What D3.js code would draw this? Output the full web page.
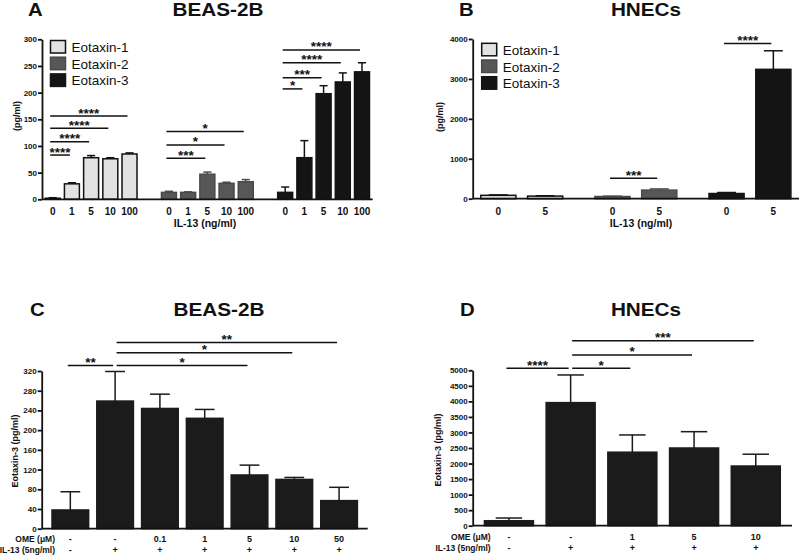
<!DOCTYPE html>
<html><head><meta charset="utf-8">
<script src="https://cdn.jsdelivr.net/npm/d3@7"></script>
<style>
html,body{margin:0;padding:0;background:#fff;}
svg{display:block;font-family:"Liberation Sans",Arial,sans-serif;}
</style></head>
<body><svg id="chart" width="800" height="555"></svg>
<script>
// ---------- DATA ----------
const seriesNames = ["Eotaxin-1","Eotaxin-2","Eotaxin-3"];
// Panel A (BEAS-2B) IL-13 doses
const dosesA = ["0","1","5","10","100"];
const meanA_E1 = [2,29,78,76,85];
const semA_E1  = [1,2,4,2,2];
const meanA_E2 = [13,13,47,30,33];
const semA_E2  = [2,1,4,2,4];
const meanA_E3 = [13,78,198,220,239];
const semA_E3  = [10,32,15,17,17];
const ticksA = [0,50,100,150,200,250,300];
// significance: [seriesIndex, fromDoseIndex, toDoseIndex, yValue, label]
const sigA = [
  [0,0,1,83,"****"],[0,0,2,108,"****"],[0,0,3,133,"****"],[0,0,4,156,"****"],
  [1,0,2,77,"***"],[1,0,3,102,"*"],[1,0,4,127,"*"],
  [2,0,1,207,"*"],[2,0,2,228,"***"],[2,0,3,256,"****"],[2,0,4,280,"****"]
];
// Panel B (HNECs)
const dosesB = ["0","5"];
const meanB_E1 = [85,65];
const semB_E1  = [10,8];
const meanB_E2 = [55,215];
const semB_E2  = [8,30];
const meanB_E3 = [130,3240];
const semB_E3  = [25,465];
const ticksB = [0,1000,2000,3000,4000];
const sigB = [[1,0,1,510,"***"],[2,0,1,3890,"****"]];
// Panel C (BEAS-2B, OME)
const omeC  = ["-","-","0.1","1","5","10","50"];
const il13C = ["-","+","+","+","+","+","+"];
const meanC = [38,259,244,224,109,100,57];
const semC  = [37,60,29,18,20,4,27];
const ticksC = [0,40,80,120,160,200,240,280,320];
const sigC = [[0,1,331,"**"],[1,4,331,"*"],[1,5,357,"*"],[1,6,378,"**"]];
// Panel D (HNECs, OME)
const omeD  = ["-","-","1","5","10"];
const il13D = ["-","+","+","+","+"];
const meanD = [160,3960,2365,2500,1920];
const semD  = [88,890,555,525,380];
const ticksD = [0,500,1000,1500,2000,2500,3000,3500,4000,4500,5000];
const sigD = [[0,1,5068,"****"],[1,2,5068,"*"],[1,3,5496,"*"],[1,4,5947,"***"]];

// ---------- STYLE ----------
const fills   = {"Eotaxin-1":"#e2e2e2","Eotaxin-2":"#575757","Eotaxin-3":"#141414"};
const strokes = {"Eotaxin-1":"#111","Eotaxin-2":"#4a4a4a","Eotaxin-3":"#141414"};
const INK = "#111";
const svg = d3.select("#chart");

function yAxis(g, y, ticks, x0, fs){
  const ax = d3.axisLeft(y).tickValues(ticks).tickFormat(d3.format("d"))
    .tickSize(4).tickSizeOuter(0).tickPadding(1);
  const a = g.append("g").attr("transform",`translate(${x0},0)`).call(ax);
  a.selectAll("path,line").attr("stroke",INK).attr("stroke-width",1.8);
  a.selectAll("text").attr("font-size",fs||8).attr("font-weight","bold").attr("fill",INK)
    .attr("font-family","'Liberation Sans',Arial,sans-serif");
}
function xLine(g, x0, x1, y0){
  g.append("line").attr("x1",x0).attr("x2",x1).attr("y1",y0).attr("y2",y0)
    .attr("stroke",INK).attr("stroke-width",1.8);
}
function title(g, letter, lx, name, cx, by){
  g.append("text").attr("transform",`translate(${lx},${by}) scale(1.1,1)`).text(letter)
    .attr("font-size",18.5).attr("font-weight","bold").attr("fill",INK);
  g.append("text").attr("transform",`translate(${cx},${by}) scale(1.12,1)`).text(name).attr("text-anchor","middle")
    .attr("font-size",18.5).attr("font-weight","bold").attr("fill",INK);
}
function yLabel(g, txt, bx, cy){
  g.append("text").attr("transform",`translate(${bx},${cy}) rotate(-90)`)
    .attr("text-anchor","middle").attr("font-size",9).attr("font-weight","bold")
    .attr("fill",INK).text(txt);
}
function bars(g, rows, y, fillFn, strokeFn, bw){
  g.selectAll(null).data(rows).join("rect")
    .attr("x",d=>d.x).attr("width",bw)
    .attr("y",d=>y(d.m)).attr("height",d=>Math.max(0,y(0)-y(d.m)))
    .attr("fill",d=>fillFn(d)).attr("stroke",d=>strokeFn(d)).attr("stroke-width",1.5);
  g.selectAll(null).data(rows).join("line")
    .attr("x1",d=>d.x+bw/2).attr("x2",d=>d.x+bw/2)
    .attr("y1",d=>y(d.m)).attr("y2",d=>y(d.m+d.s))
    .attr("stroke",d=>strokeFn(d)).attr("stroke-width",1.5);
  g.selectAll(null).data(rows).join("line")
    .attr("x1",d=>d.x+bw/2-bw*0.27).attr("x2",d=>d.x+bw/2+bw*0.27)
    .attr("y1",d=>y(d.m+d.s)).attr("y2",d=>y(d.m+d.s))
    .attr("stroke",d=>strokeFn(d)).attr("stroke-width",1.5);
}
function sig(g, items, y){
  items.forEach(it=>{
    const x1 = it.xa + (it.shared ? 1.5 : -2.5), x2 = it.xb - 2;
    g.append("line").attr("x1",x1).attr("x2",x2).attr("y1",y(it.v)).attr("y2",y(it.v))
      .attr("stroke",INK).attr("stroke-width",1.5);
    g.append("text").attr("x",(x1+x2)/2).attr("y",y(it.v)+1.5).attr("text-anchor","middle")
      .attr("font-size",13.5).attr("font-weight","bold").attr("fill",INK).text(it.lab);
  });
}
function legend(g, x, y0, step){
  seriesNames.forEach((n,i)=>{
    g.append("rect").attr("x",x).attr("y",y0+i*step).attr("width",15).attr("height",12.5)
      .attr("fill",fills[n]).attr("stroke",strokes[n]).attr("stroke-width",1.5);
    g.append("text").attr("x",x+21).attr("y",y0+i*step+11.5).text(n)
      .attr("font-size",13.5).attr("fill",INK);
  });
}

// ---------- PANEL A ----------
(function(){
  const g = svg.append("g");
  const y = d3.scaleLinear().domain([0,300]).range([199.3,39.3]);
  const xo = d3.scaleBand().domain(seriesNames).range([42,372.7]).paddingInner(0.2).paddingOuter(0.0225);
  const xi = d3.scaleBand().domain(dosesA).range([0,xo.bandwidth()]).paddingInner(0.22).paddingOuter(0.031);
  const means = [meanA_E1,meanA_E2,meanA_E3], sems=[semA_E1,semA_E2,semA_E3];
  const rows = [];
  seriesNames.forEach((n,si)=>dosesA.forEach((d,di)=>rows.push({n, d, x:xo(n)+xi(d), m:means[si][di], s:sems[si][di]})));
  bars(g, rows, y, d=>fills[d.n], d=>strokes[d.n], xi.bandwidth());
  xLine(g, 42, 372.7, y(0));
  yAxis(g, y, ticksA, 42);
  g.selectAll(null).data(rows).join("text")
    .attr("x",d=>d.x+xi.bandwidth()/2).attr("y",214.5).attr("text-anchor","middle")
    .attr("font-size",10).attr("font-weight","bold").attr("fill",INK).text(d=>d.d);
  g.append("text").attr("x",205).attr("y",227).attr("text-anchor","middle")
    .attr("font-size",10.5).attr("font-weight","bold").attr("fill",INK).text("IL-13 (ng/ml)");
  const cx = (si,di)=>xo(seriesNames[si])+xi(dosesA[di])+xi.bandwidth()/2;
  sig(g, sigA.map(s=>({xa:cx(s[0],s[1]), xb:cx(s[0],s[2]), shared:false, v:s[3], lab:s[4]})), y);
  legend(g, 50.5, 40.5, 16.7);
  yLabel(g, "(pg/ml)", 20, 116);
  title(g, "A", 28, "BEAS-2B", 218, 16.3);
})();

// ---------- PANEL B ----------
(function(){
  const g = svg.append("g");
  const y = d3.scaleLinear().domain([0,4000]).range([198.7,39]);
  const xo = d3.scaleBand().domain(seriesNames).range([472.7,799]).paddingInner(0.2).paddingOuter(0.03);
  const xi = d3.scaleBand().domain(dosesB).range([0,xo.bandwidth()]).paddingInner(0.25).paddingOuter(0.1);
  const means = [meanB_E1,meanB_E2,meanB_E3], sems=[semB_E1,semB_E2,semB_E3];
  const rows = [];
  seriesNames.forEach((n,si)=>dosesB.forEach((d,di)=>rows.push({n, d, x:xo(n)+xi(d), m:means[si][di], s:sems[si][di]})));
  bars(g, rows, y, d=>fills[d.n], d=>strokes[d.n], xi.bandwidth());
  xLine(g, 472.7, 799, y(0));
  yAxis(g, y, ticksB, 472.7);
  g.selectAll(null).data(rows).join("text")
    .attr("x",d=>d.x+xi.bandwidth()/2).attr("y",214.5).attr("text-anchor","middle")
    .attr("font-size",10).attr("font-weight","bold").attr("fill",INK).text(d=>d.d);
  g.append("text").attr("x",641).attr("y",227).attr("text-anchor","middle")
    .attr("font-size",10.5).attr("font-weight","bold").attr("fill",INK).text("IL-13 (ng/ml)");
  const cx = (si,di)=>xo(seriesNames[si])+xi(dosesB[di])+xi.bandwidth()/2;
  sig(g, sigB.map(s=>({xa:cx(s[0],s[1]), xb:cx(s[0],s[2]), shared:false, v:s[3], lab:s[4]})), y);
  legend(g, 481.7, 43.3, 16.7);
  yLabel(g, "(pg/ml)", 443, 117);
  title(g, "B", 459, "HNECs", 646, 16.3);
})();

// ---------- PANEL C / D ----------
function ome(cfg){
  const g = svg.append("g");
  const y = d3.scaleLinear().domain([0,cfg.ymax]).range([cfg.y0,cfg.y1]);
  const x = d3.scaleBand().domain(d3.range(cfg.mean.length)).range([cfg.x0,cfg.x1])
    .paddingInner(cfg.pi).paddingOuter(cfg.po);
  const rows = cfg.mean.map((m,i)=>({i, x:x(i), m, s:cfg.sem[i]}));
  bars(g, rows, y, ()=>"#1b1b1b", ()=>"#1b1b1b", x.bandwidth());
  xLine(g, cfg.x0, cfg.x1, y(0));
  yAxis(g, y, cfg.ticks, cfg.x0, cfg.tfs);
  const c = i=>x(i)+x.bandwidth()/2;
  g.selectAll(null).data(cfg.ome).join("text")
    .attr("x",(d,i)=>c(i)).attr("y",cfg.r1).attr("text-anchor","middle")
    .attr("font-size",9).attr("font-weight","bold").attr("fill",INK).text(d=>d);
  g.selectAll(null).data(cfg.il13).join("text")
    .attr("x",(d,i)=>c(i)).attr("y",cfg.r2).attr("text-anchor","middle")
    .attr("font-size",9).attr("font-weight","bold").attr("fill",INK).text(d=>d);
  g.append("text").attr("x",cfg.lx).attr("y",cfg.r1).attr("text-anchor","end")
    .attr("font-size",8.5).attr("font-weight","bold").attr("fill",INK).text("OME (\u03BCM)");
  g.append("text").attr("x",cfg.lx).attr("y",cfg.r2).attr("text-anchor","end")
    .attr("font-size",8.5).attr("font-weight","bold").attr("fill",INK).text("IL-13 (5ng/ml)");
  const ends = new Set(cfg.sig.map(s=>s[1]));
  sig(g, cfg.sig.map(s=>({xa:c(s[0]), xb:c(s[1]), shared:ends.has(s[0]), v:s[2], lab:s[3]})), y);
  yLabel(g, "Eotaxin-3 (pg/ml)", cfg.ylx, cfg.ylc);
  title(g, cfg.letter, cfg.tlx, cfg.name, cfg.tcx, 316);
}
ome({letter:"C", name:"BEAS-2B", tlx:30, tcx:219, ymax:320, y0:528.7, y1:371,
     x0:41.7, x1:367.7, pi:0.182, po:0.23, mean:meanC, sem:semC, ticks:ticksC, tfs:8,
     ome:omeC, il13:il13C, sig:sigC, r1:541.5, r2:552.5, lx:55, ylx:18, ylc:451});
ome({letter:"D", name:"HNECs", tlx:460, tcx:646, ymax:5000, y0:525.7, y1:370.3,
     x0:472.7, x1:792, pi:0.206, po:0.19, mean:meanD, sem:semD, ticks:ticksD, tfs:8,
     ome:omeD, il13:il13D, sig:sigD, r1:540, r2:551, lx:490.7, ylx:441, ylc:450});
</script></body></html>
